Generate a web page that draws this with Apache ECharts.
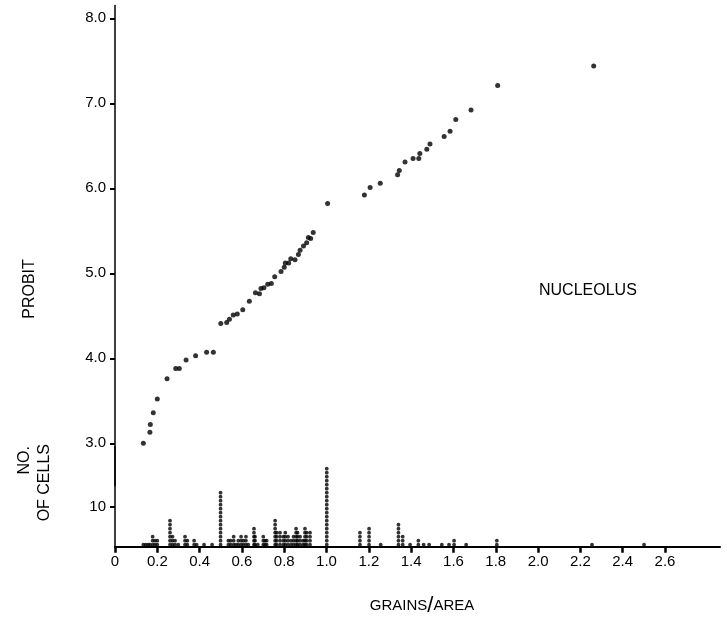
<!DOCTYPE html>
<html>
<head>
<meta charset="utf-8">
<script src="https://cdn.jsdelivr.net/npm/echarts@6/dist/echarts.min.js"></script>
<style>
html,body{margin:0;padding:0;background:#fff;}
#chart{width:727px;height:620px;}
</style>
</head>
<body>
<div id="chart"></div>
<script>
// Probit plot (upper panel): grains/area vs probit
const probitX = [0.134,0.165,0.167,0.181,0.200,0.246,0.287,0.304,0.336,0.381,0.433,0.465,
  0.500,0.528,0.541,0.559,0.578,0.604,0.635,0.664,0.683,0.690,0.704,0.722,0.739,0.755,
  0.785,0.800,0.805,0.821,0.831,0.851,0.867,0.875,0.891,0.906,0.914,0.925,0.937,1.005,
  1.179,1.206,1.254,1.336,1.344,1.371,1.409,1.436,1.441,1.474,1.489,1.556,1.584,1.611,
  1.683,1.809,2.263];
const probitY = [3.00,3.13,3.22,3.36,3.52,3.76,3.88,3.88,3.98,4.03,4.07,4.07,
  4.41,4.42,4.46,4.51,4.52,4.57,4.67,4.77,4.76,4.82,4.83,4.87,4.88,4.96,
  5.02,5.07,5.12,5.12,5.17,5.16,5.22,5.27,5.32,5.36,5.42,5.41,5.48,5.82,
  5.92,6.01,6.06,6.16,6.21,6.31,6.35,6.35,6.41,6.46,6.52,6.61,6.67,6.81,
  6.92,7.21,7.44];

// Dot histogram (lower panel): number of cells at each grains/area value
const cellX = [0.134,0.145,0.156,0.165,0.178,0.189,0.200,0.260,0.272,0.284,0.299,0.331,0.342,
  0.374,0.386,0.421,0.459,0.499,0.536,0.547,0.561,0.572,0.583,0.596,0.607,0.619,0.630,
  0.657,0.662,0.675,0.701,0.709,0.717,0.757,0.764,0.780,0.796,0.805,0.818,0.832,0.844,
  0.856,0.863,0.875,0.889,0.898,0.906,0.922,1.001,1.158,1.201,1.256,1.340,1.360,1.395,
  1.434,1.459,1.485,1.545,1.579,1.603,1.660,1.805,2.255,2.501];
const cellCount = [1,1,1,1,3,2,2,7,3,2,1,3,2,
  2,1,1,1,14,2,2,3,1,2,3,2,3,1,
  5,3,1,3,2,2,7,4,4,3,4,3,2,3,
  5,4,3,2,5,4,4,20,4,5,1,6,3,1,
  2,1,1,1,1,2,1,2,1,1];

const xTicks = [0,0.2,0.4,0.6,0.8,1.0,1.2,1.4,1.6,1.8,2.0,2.2,2.4,2.6];
const probitTicks = [3,4,5,6,7,8];
const cellTicks = [10];

const probitData = probitX.map((x, i) => [x, probitY[i]]);
const cellDots = [];
cellX.forEach((x, i) => {
  for (let k = 1; k <= cellCount[i]; k++) cellDots.push([x, k - 0.5]);
});

const FONT = 'Liberation Sans';
const chart = echarts.init(document.getElementById('chart'));
chart.setOption({
  animation: false,
  backgroundColor: '#fff',
  textStyle: { fontFamily: FONT },
  grid: [
    { left: 115, width: 605, top: 5.55, height: 480.25 },
    { left: 115, width: 605, top: 446.7, height: 100 }
  ],
  xAxis: [
    { gridIndex: 0, type: 'value', min: 0, max: 2.86, show: false },
    { gridIndex: 1, type: 'value', min: 0, max: 2.86,
      axisLine: { show: true, lineStyle: { color: '#000', width: 2 } },
      axisTick: { show: true, length: 6, lineStyle: { color: '#000', width: 2.5 }, customValues: xTicks },
      axisLabel: { show: true, customValues: xTicks, color: '#000', fontSize: 15, fontFamily: FONT, margin: 8,
        formatter: v => (v === 0 ? '0' : v.toFixed(1)) },
      splitLine: { show: false } }
  ],
  yAxis: [
    { gridIndex: 0, type: 'value', min: 2.5, max: 8.15,
      axisLine: { show: true, lineStyle: { color: '#000', width: 1.5 } },
      axisTick: { show: true, length: 5, lineStyle: { color: '#000', width: 2 }, customValues: probitTicks },
      axisLabel: { show: true, customValues: probitTicks, color: '#000', fontSize: 15, fontFamily: FONT, margin: 9,
        formatter: v => v.toFixed(1) },
      splitLine: { show: false } },
    { gridIndex: 1, type: 'value', min: 0, max: 25,
      axisLine: { show: true, lineStyle: { color: '#000', width: 1.5 } },
      axisTick: { show: true, length: 5, lineStyle: { color: '#000', width: 2 }, customValues: cellTicks },
      axisLabel: { show: true, customValues: cellTicks, color: '#000', fontSize: 15, fontFamily: FONT, margin: 9 },
      splitLine: { show: false } }
  ],
  series: [
    { type: 'scatter', xAxisIndex: 0, yAxisIndex: 0, data: probitData, symbol: 'circle', symbolSize: 5,
      itemStyle: { color: '#000' }, clip: false },
    { type: 'scatter', xAxisIndex: 1, yAxisIndex: 1, data: cellDots, symbol: 'circle', symbolSize: 3.8,
      itemStyle: { color: '#000' }, clip: false }
  ],
  graphic: [
    { type: 'text', x: 30, y: 289, rotation: Math.PI / 2,
      style: { text: 'PROBIT', fill: '#000', font: '16px ' + FONT, textAlign: 'center', textVerticalAlign: 'middle' } },
    { type: 'text', x: 25, y: 446, rotation: Math.PI / 2,
      style: { text: 'NO.', fill: '#000', font: '16px ' + FONT, textAlign: 'right', textVerticalAlign: 'middle' } },
    { type: 'text', x: 45, y: 444, rotation: Math.PI / 2,
      style: { text: 'OF CELLS', fill: '#000', font: '16px ' + FONT, textAlign: 'right', textVerticalAlign: 'middle' } },
    { type: 'text', x: 539, y: 291,
      style: { text: 'NUCLEOLUS', fill: '#000', font: '16px ' + FONT, textAlign: 'left', textVerticalAlign: 'middle' } },
    { type: 'text', x: 422, y: 606,
      style: { text: '{a|GRAINS}{s|/}{a|AREA}', fill: '#000', textAlign: 'center', textVerticalAlign: 'middle',
        rich: { a: { fontSize: 15, fontFamily: FONT, fill: '#000' }, s: { fontSize: 22, fontFamily: FONT, fill: '#000' } } } }
  ]
});
</script>
</body>
</html>
